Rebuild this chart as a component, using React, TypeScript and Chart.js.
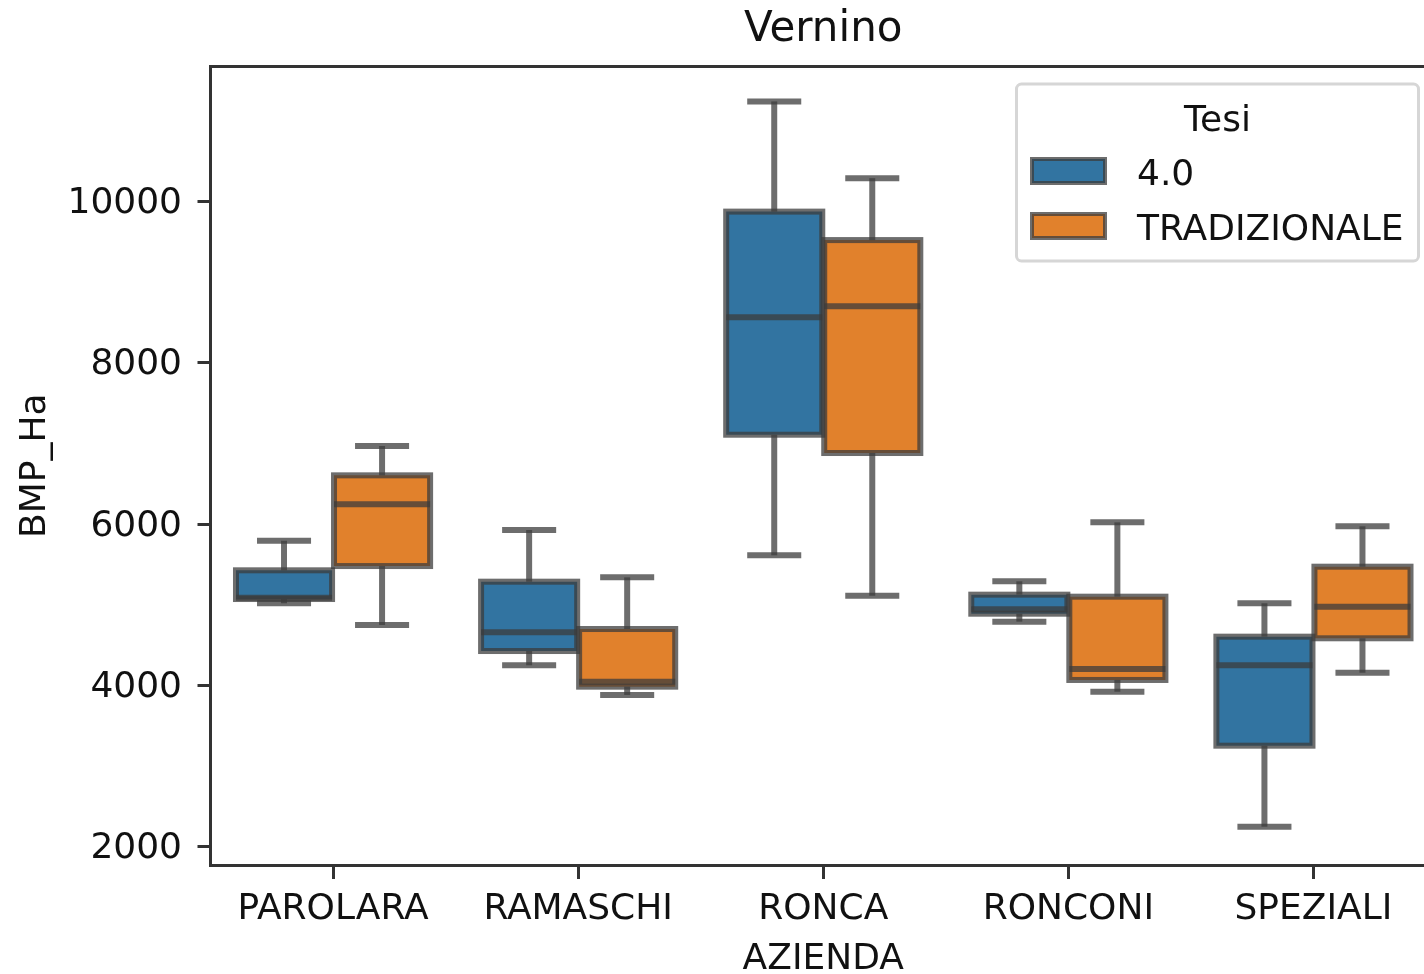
import React, { useEffect, useRef } from 'react';
import { Chart, registerables } from 'chart.js';

Chart.register(...registerables);

// ---- data ----
const categories = ['PAROLARA', 'RAMASCHI', 'RONCA', 'RONCONI', 'SPEZIALI'];
const seriesLabels = ['4.0', 'TRADIZIONALE'];
const seriesColors = ['#3274a1', '#e1812c'];

const min40 = [5019, 4250, 5614, 4791, 2248];
const q1_40 = [5072, 4427, 7110, 4890, 3253];
const med40 = [5088, 4659, 8566, 4944, 4250];
const q3_40 = [5428, 5287, 9877, 5126, 4605];
const max40 = [5795, 5928, 11244, 5292, 5019];

const minTrad = [4750, 3882, 5114, 3922, 4158];
const q1Trad = [5481, 3985, 6883, 4068, 4585];
const medTrad = [6247, 4047, 8703, 4204, 4977];
const q3Trad = [6606, 4700, 9524, 5101, 5473];
const maxTrad = [6970, 5341, 10292, 6023, 5974];

const yTicks = [2000, 4000, 6000, 8000, 10000];
const yMin = 1773;
const yMax = 11677;

const titleText = 'Vernino';
const xTitle = 'AZIENDA';
const yTitle = 'BMP_Ha';
const legendTitle = 'Tesi';

const stats = [
  { min: min40, q1: q1_40, med: med40, q3: q3_40, max: max40 },
  { min: minTrad, q1: q1Trad, med: medTrad, q3: q3Trad, max: maxTrad },
];

// ---- styles ----
const FONT = "'DejaVu Sans', 'Liberation Sans', sans-serif";
const EDGE = 'rgba(60,60,60,0.75)';
const SPINE = '#333333';
const TEXT = '#111111';
const LW = 6;

const boxPlugin = {
  id: 'boxWhiskers',
  afterDatasetsDraw(chart: any) {
    const ctx = chart.ctx;
    const y = chart.scales.y;
    chart.data.datasets.forEach((_ds: any, di: number) => {
      const meta = chart.getDatasetMeta(di);
      const s = stats[di];
      meta.data.forEach((bar: any, i: number) => {
        const { x, width } = bar.getProps(['x', 'width'], true);
        const left = x - width / 2;
        const right = x + width / 2;
        const pMin = y.getPixelForValue(s.min[i]);
        const pQ1 = y.getPixelForValue(s.q1[i]);
        const pMed = y.getPixelForValue(s.med[i]);
        const pQ3 = y.getPixelForValue(s.q3[i]);
        const pMax = y.getPixelForValue(s.max[i]);
        ctx.save();
        ctx.strokeStyle = EDGE;
        ctx.lineWidth = LW;
        ctx.lineCap = 'butt';
        // box outline
        ctx.strokeRect(left, pQ3, width, pQ1 - pQ3);
        // median
        ctx.beginPath();
        ctx.moveTo(left, pMed);
        ctx.lineTo(right, pMed);
        ctx.stroke();
        // whiskers
        ctx.beginPath();
        ctx.moveTo(x, pQ3);
        ctx.lineTo(x, pMax);
        ctx.stroke();
        ctx.beginPath();
        ctx.moveTo(x, pQ1);
        ctx.lineTo(x, pMin);
        ctx.stroke();
        // caps
        ctx.lineCap = 'square';
        const cw = width / 4;
        ctx.beginPath();
        ctx.moveTo(x - cw, pMax);
        ctx.lineTo(x + cw, pMax);
        ctx.stroke();
        ctx.beginPath();
        ctx.moveTo(x - cw, pMin);
        ctx.lineTo(x + cw, pMin);
        ctx.stroke();
        ctx.restore();
      });
    });
  },
  afterDraw(chart: any) {
    const ctx = chart.ctx;
    const ca = chart.chartArea;
    // top and right spines
    ctx.save();
    ctx.strokeStyle = SPINE;
    ctx.lineWidth = 3;
    ctx.beginPath();
    ctx.moveTo(ca.left - 1.5, ca.top);
    ctx.lineTo(ca.right, ca.top);
    ctx.lineTo(ca.right, ca.bottom);
    ctx.stroke();
    ctx.restore();

    // legend
    const fw = 402;
    const fh = 177;
    const fx = ca.right - 17.5 - fw;
    const fy = ca.top + 17.5;
    ctx.save();
    ctx.beginPath();
    if (ctx.roundRect) ctx.roundRect(fx, fy, fw, fh, 5);
    else ctx.rect(fx, fy, fw, fh);
    ctx.fillStyle = 'rgba(255,255,255,0.8)';
    ctx.fill();
    ctx.strokeStyle = '#d6d6d6';
    ctx.lineWidth = 3;
    ctx.stroke();

    ctx.font = `36px ${FONT}`;
    ctx.fillStyle = TEXT;
    ctx.textAlign = 'center';
    ctx.textBaseline = 'alphabetic';
    ctx.fillText(legendTitle, fx + fw / 2, fy + 47);

    seriesLabels.forEach((lab, k) => {
      const py = fy + 75 + k * 55;
      ctx.fillStyle = seriesColors[k];
      ctx.fillRect(fx + 15.5, py, 73, 24);
      ctx.strokeStyle = EDGE;
      ctx.lineWidth = 4;
      ctx.strokeRect(fx + 15.5, py, 73, 24);
      ctx.fillStyle = TEXT;
      ctx.textAlign = 'left';
      ctx.fillText(lab, fx + 120.5, fy + 101 + k * 55);
    });
    ctx.restore();
  },
};

export default function App() {
  const ref = useRef<HTMLCanvasElement | null>(null);

  useEffect(() => {
    if (!ref.current) return;
    const chart = new Chart(ref.current, {
      type: 'bar',
      data: {
        labels: categories,
        datasets: seriesLabels.map((lab, k) => ({
          label: lab,
          data: categories.map((_c, i) => [stats[k].q1[i], stats[k].q3[i]]),
          backgroundColor: seriesColors[k],
          borderWidth: 0,
          categoryPercentage: 0.8,
          barPercentage: 0.98,
        })),
      } as any,
      options: {
        animation: false,
        responsive: false,
        maintainAspectRatio: false,
        devicePixelRatio: 1,
        layout: { padding: { left: 0, top: 0, right: 4, bottom: 0 } },
        plugins: {
          legend: { display: false },
          tooltip: { enabled: false },
          title: {
            display: true,
            text: titleText,
            fullSize: false,
            color: TEXT,
            font: { family: FONT, size: 42, weight: 'normal', lineHeight: 1.2 },
            padding: { top: 5.3, bottom: 10.8 },
          },
        },
        scales: {
          x: {
            type: 'category',
            offset: true,
            grid: {
              display: true,
              offset: false,
              drawOnChartArea: false,
              drawTicks: true,
              tickLength: 14,
              color: SPINE,
              lineWidth: 3,
            },
            border: { display: true, color: SPINE, width: 3 },
            ticks: {
              color: TEXT,
              font: { family: FONT, size: 36, lineHeight: 1.2 },
              padding: 8.6,
              maxRotation: 0,
              autoSkip: false,
            },
            title: {
              display: true,
              text: xTitle,
              color: TEXT,
              font: { family: FONT, size: 36, lineHeight: 1.2 },
              padding: { top: 0, bottom: 18.9 },
            },
            afterFit: (s: any) => {
              s.height = 135;
            },
          },
          y: {
            type: 'linear',
            min: yMin,
            max: yMax,
            afterBuildTicks: (s: any) => {
              s.ticks = yTicks.map((v) => ({ value: v }));
            },
            grid: {
              display: true,
              drawOnChartArea: false,
              drawTicks: true,
              tickLength: 13,
              color: SPINE,
              lineWidth: 3,
            },
            border: { display: true, color: SPINE, width: 3 },
            ticks: {
              color: TEXT,
              font: { family: FONT, size: 36, lineHeight: 1.2 },
              padding: 15.5,
              labelOffset: 2,
              callback: (v: any) => String(v),
            },
            title: {
              display: true,
              text: yTitle,
              color: TEXT,
              font: { family: FONT, size: 36, lineHeight: 1.2 },
              padding: { top: 13.9, bottom: 0 },
            },
            afterFit: (s: any) => {
              s.width = 210.5;
            },
          },
        },
      } as any,
      plugins: [boxPlugin],
    });
    return () => chart.destroy();
  }, []);

  return (
    <div
      style={{
        position: 'fixed',
        left: 0,
        top: 0,
        width: 1424,
        height: 974,
        overflow: 'hidden',
        background: '#ffffff',
      }}
    >
      <canvas
        ref={ref}
        width={1440}
        height={1000}
        style={{ width: 1440, height: 1000, display: 'block' }}
      />
    </div>
  );
}
